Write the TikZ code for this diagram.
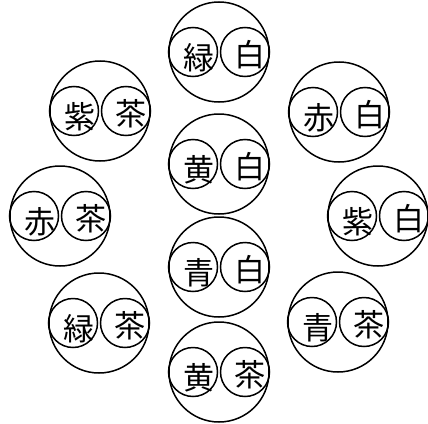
\documentclass[tikz,border=0pt]{standalone}
\usepackage{fontspec}
\newfontfamily\cjk{Noto Sans CJK JP}
\usetikzlibrary{positioning,calc}

\begin{document}
\begin{tikzpicture}[x=1pt, y=-1pt,
    big/.style={circle, draw, line width=1.5pt, minimum size=100pt, inner sep=0pt},
    small/.style={circle, draw, line width=1.5pt, minimum size=49pt, inner sep=0pt},
    kanji/.style={font=\cjk\fontsize{31}{31}\selectfont, inner sep=0pt}]
    \useasboundingbox (0,0) rectangle (428,423);

    % name / centre / left colour / right colour
    \foreach \n/\x/\y/\a/\b in {
        gw/219/52/緑/白, yw/219/164/黄/白, bw/219/267/青/白, yc/219/372/黄/茶,
        pc/100/111/紫/茶, rw/339/112/赤/白, rc/60/216/赤/茶, pw/378/216/紫/白,
        gc/99/323/緑/茶, bc/338/322/青/茶} {
        \node[big] (\n) at (\x,\y) {};
        \node[small] (\n-l) at ($(\n)+(-26,0)$) {};
        \node[small] (\n-r) at ($(\n)+(26,0)$) {};
        \node[kanji] (\n-lt) at ($(\n-l)+(6,6)$) {\a};
        \node[kanji] (\n-rt) at ($(\n-r)+(5,3)$) {\b};
    }
\end{tikzpicture}
\end{document}
